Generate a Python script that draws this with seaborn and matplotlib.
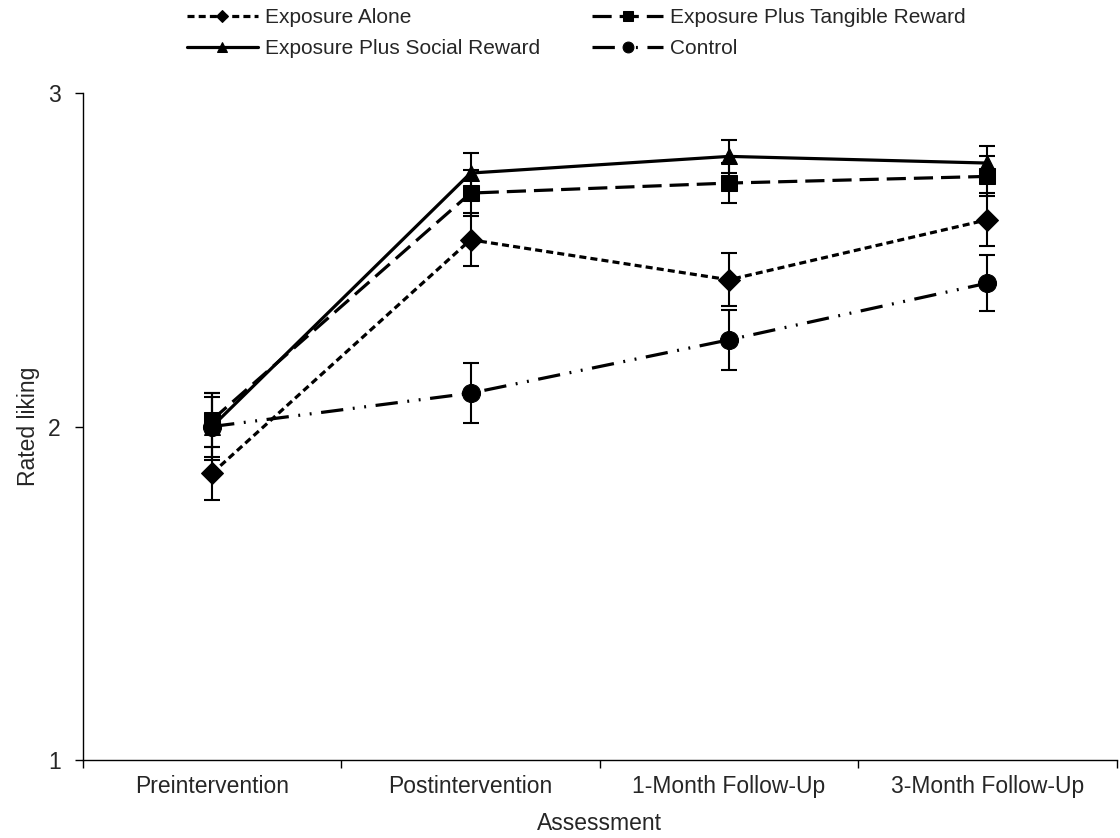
import matplotlib
matplotlib.use("Agg")
import matplotlib.pyplot as plt
import numpy as np
import pandas as pd
import seaborn as sns

assessments = ["Preintervention", "Postintervention", "1-Month Follow-Up", "3-Month Follow-Up"]

exposure_alone = [1.86, 2.56, 2.44, 2.62]
exposure_alone_err = [0.08, 0.08, 0.08, 0.08]
tangible = [2.02, 2.70, 2.73, 2.75]
tangible_err = [0.08, 0.07, 0.06, 0.06]
social = [2.00, 2.76, 2.81, 2.79]
social_err = [0.10, 0.06, 0.05, 0.05]
control = [2.00, 2.10, 2.26, 2.43]
control_err = [0.09, 0.09, 0.09, 0.085]

series = [
    ("Exposure Alone", exposure_alone, exposure_alone_err, "D", (0, (2.2, 1.3)), 11),
    ("Exposure Plus Social Reward", social, social_err, "^", "-", 12),
    ("Exposure Plus Tangible Reward", tangible, tangible_err, "s", (0, (6, 2.5)), 12),
    ("Control", control, control_err, "o", (0, (7, 3, 0.6, 3, 0.6, 3)), 13),
]

sns.set_theme(style="white")
plt.rcParams["font.family"] = ["Liberation Sans", "DejaVu Sans"]

fig = plt.figure(figsize=(11.2, 8.38), dpi=100)
ax = fig.add_axes([0.074, 0.093, 0.923, 0.796])

x = np.arange(len(assessments))
for name, vals, errs, marker, ls, ms in series:
    df = pd.DataFrame({"x": x, "y": vals})
    sns.lineplot(data=df, x="x", y="y", ax=ax, color="black", lw=2.3,
                 linestyle=ls, marker=marker, markersize=ms, markeredgecolor="black",
                 label=name)
    ax.errorbar(x, vals, yerr=errs, fmt="none", ecolor="black", elinewidth=1.5,
                capsize=6, capthick=1.5)

ax.set_xlim(-0.5, 3.5)
ax.set_ylim(1, 3)
ax.set_yticks([1, 2, 3])
ax.set_xticks(x)
ax.set_xticklabels(assessments)
ax.set_xticks([-0.5, 0.5, 1.5, 2.5, 3.5], minor=True)
ax.tick_params(axis="x", which="major", length=0, labelsize=16.5, pad=11)
ax.tick_params(axis="x", which="minor", length=6, width=1, color="black", direction="out", bottom=True)
ax.tick_params(axis="y", length=6, width=1, color="black", direction="out", left=True,
               labelsize=16.5, pad=10)
ax.set_xlabel("Assessment", fontsize=16.5, labelpad=10)
ax.set_ylabel("Rated liking", fontsize=16.5, labelpad=6)

for side in ["top", "right"]:
    ax.spines[side].set_visible(False)
for side in ["left", "bottom"]:
    ax.spines[side].set_color("black")
    ax.spines[side].set_linewidth(1)

ax.legend(loc="upper left", bbox_to_anchor=(187 / 1120, 0.99),
          bbox_transform=fig.transFigure, ncol=2, frameon=False,
          fontsize=15, handlelength=3.4, handletextpad=0.35, columnspacing=2.5,
          labelspacing=0.55, markerscale=0.6, borderaxespad=0, borderpad=0)

fig.savefig("out.png", dpi=100)
